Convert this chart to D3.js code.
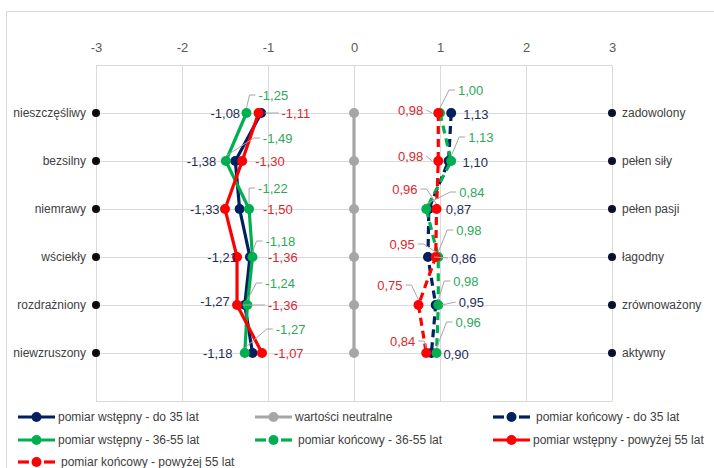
<!DOCTYPE html>
<html><head><meta charset="utf-8">
<script src="https://cdn.jsdelivr.net/npm/d3@7"></script>
<style>
html,body{margin:0;padding:0;background:#fff;}
svg{display:block;font-family:"Liberation Sans",Arial,sans-serif;}
</style></head>
<body><svg id="chart" width="714" height="468"></svg>
<script>
// ---------- data ----------
const categoriesLeft  = ["nieszczęśliwy","bezsilny","niemrawy","wściekły","rozdrażniony","niewzruszony"];
const categoriesRight = ["zadowolony","pełen siły","pełen pasji","łagodny","zrównoważony","aktywny"];
const xTicks = [-3,-2,-1,0,1,2,3];
const preYoung  = [-1.08,-1.38,-1.33,-1.21,-1.27,-1.18];
const neutral   = [0,0,0,0,0,0];
const postYoung = [1.13,1.10,0.87,0.86,0.95,0.90];
const preMid    = [-1.25,-1.49,-1.22,-1.18,-1.24,-1.27];
const postMid   = [1.00,1.13,0.84,0.98,0.98,0.96];
const preOld    = [-1.11,-1.30,-1.50,-1.36,-1.36,-1.07];
const postOld   = [0.98,0.98,0.96,0.95,0.75,0.84];
const seriesNames = ["pomiar wstępny - do 35 lat","wartości neutralne","pomiar końcowy - do 35 lat",
  "pomiar wstępny - 36-55 lat","pomiar końcowy - 36-55 lat","pomiar wstępny - powyżej 55 lat",
  "pomiar końcowy - powyżej 55 lat"];

// ---------- styling / layout (not data) ----------
const C = {navy:"#002060", gray:"#a6a6a6", green:"#00b050", red:"#ff0000"};
const LC = {navy:"#1f2d5a", green:"#2ea85a", red:"#e0262c"};
// label offsets [dx, dy] relative to point, anchor, leader flag
const labelLayout = {
  preYoung:  {anchor:"end",   leader:false, off:[[-21,0],[-19,0],[-20,0],[-13,0],[-15,-4],[-20,0]]},
  preOld:    {anchor:"start", leader:[true,false,false,false,true,false], off:[[23,0],[13,0],[38,0],[31,0],[31,0],[12,0]]},
  preMid:    {anchor:"start", leader:true, off:[[12,-18],[37,-23],[9,-21],[13,-16],[18,-22],[31,-24]]},
  postYoung: {anchor:"start", leader:[false,false,false,true,true,false], off:[[12,1],[14,1],[17,0],[23,1],[23,-3],[12,1]]},
  postMid:   {anchor:"start", leader:true, off:[[18,-23],[17,-24],[33,-17],[18,-27],[15,-24],[19,-31]]},
  postOld:   {anchor:"end",   leader:true, off:[[-15,-3],[-15,-5],[-19,-20],[-21,-13],[-16,-20],[-11,-12]]}
};

const svg = d3.select("#chart");
const x = d3.scaleLinear().domain([-3,3]).range([96,612]);
const y = d3.scaleLinear().domain([0,7]).range([65,401]);
const rows = d3.range(1,7);
const fmt = d3.formatLocale({decimal:",",thousands:" ",grouping:[3],currency:["",""],minus:"-"}).format(".2f");

// outer border
svg.append("rect").attr("x",6.5).attr("y",11.5).attr("width",760).attr("height",500)
  .attr("fill","none").attr("stroke","#d9d9d9");

// gridlines
const grid = svg.append("g").attr("stroke","#d9d9d9").attr("stroke-width",1);
grid.selectAll("line.v").data(xTicks).join("line")
  .attr("x1",d=>Math.round(x(d))+0.5).attr("x2",d=>Math.round(x(d))+0.5)
  .attr("y1",y(0)).attr("y2",y(7));
grid.selectAll("line.h").data(d3.range(0,8)).join("line")
  .attr("x1",x(-3)).attr("x2",x(3))
  .attr("y1",d=>Math.round(y(d))+0.5).attr("y2",d=>Math.round(y(d))+0.5);

// top axis
const ax = svg.append("g").attr("transform",`translate(0,${y(0)})`)
  .call(d3.axisTop(x).tickValues(xTicks).tickSize(0).tickPadding(13).tickFormat(d=>String(d)));
ax.select(".domain").remove();
ax.selectAll("text").attr("font-size",13).attr("fill","#595959").attr("font-family","Liberation Sans, Arial");

// category endpoints
const ends = svg.append("g");
ends.selectAll("circle.l").data(rows).join("circle")
  .attr("cx",x(-3)).attr("cy",d=>y(d)).attr("r",4).attr("fill","#0d0d0d");
ends.selectAll("circle.r").data(rows).join("circle")
  .attr("cx",x(3)).attr("cy",d=>y(d)).attr("r",4).attr("fill","#0a1030");
ends.selectAll("text.l").data(categoriesLeft).join("text")
  .attr("x",86).attr("y",(d,i)=>y(i+1)).attr("dy","0.35em").attr("text-anchor","end")
  .attr("font-size",12).attr("fill","#404040").text(d=>d);
ends.selectAll("text.r").data(categoriesRight).join("text")
  .attr("x",622).attr("y",(d,i)=>y(i+1)).attr("dy","0.35em").attr("text-anchor","start")
  .attr("font-size",12).attr("fill","#404040").text(d=>d);

// series
const series = [
  {key:"preYoung", vals:preYoung, color:C.navy, dash:null, lc:LC.navy},
  {key:"neutral", vals:neutral, color:C.gray, dash:null, lc:null},
  {key:"postYoung", vals:postYoung, color:C.navy, dash:"8,5", lc:LC.navy},
  {key:"preMid", vals:preMid, color:C.green, dash:null, lc:LC.green},
  {key:"postMid", vals:postMid, color:C.green, dash:"8,5", lc:LC.green},
  {key:"preOld", vals:preOld, color:C.red, dash:null, lc:LC.red},
  {key:"postOld", vals:postOld, color:C.red, dash:"8,5", lc:LC.red}
];
const line = d3.line().x(d=>x(d.v)).y(d=>y(d.r));
const sg = svg.append("g");
series.forEach(s=>{
  const pts = s.vals.map((v,i)=>({v, r:i+1}));
  const g = sg.append("g");
  g.append("path").attr("d",line(pts)).attr("fill","none").attr("stroke",s.color)
    .attr("stroke-width",3.2).attr("stroke-dasharray",s.dash).attr("stroke-linejoin","round");
  g.selectAll("circle").data(pts).join("circle")
    .attr("cx",d=>x(d.v)).attr("cy",d=>y(d.r)).attr("r",5).attr("fill",s.color);
});

// labels
const lg = svg.append("g");
series.forEach(s=>{
  const L = labelLayout[s.key]; if(!L) return;
  s.vals.forEach((v,i)=>{
    const px = x(v), py = y(i+1);
    const [dx,dy] = L.off[i];
    const tx = px+dx, ty = py+dy;
    const leader = Array.isArray(L.leader) ? L.leader[i] : L.leader;
    if(leader){
      const ex = L.anchor==="start" ? tx-3 : tx+3;
      const bx = L.anchor==="start" ? ex-6 : ex+6;
      let path;
      if(Math.abs(dy)<6) path = `M${ex},${ty}L${px + (L.anchor==="start"?6:-6)},${py}`;
      else path = `M${ex},${ty}L${bx},${ty}L${px},${py + (dy<0?-5:5)}`;
      lg.append("path").attr("d",path).attr("fill","none").attr("stroke","#a6a6a6").attr("stroke-width",1);
    }
    lg.append("text").attr("x",tx).attr("y",ty).attr("dy","0.35em").attr("text-anchor",L.anchor)
      .attr("font-size",13).attr("fill",s.lc).text(fmt(v));
  });
});

// legend
const legendPos = [[18,417],[255,417],[493,417],[18,440],[255,440],[493,440],[18,462]];
const leg = svg.append("g");
series.forEach((s,i)=>{
  const [lx,ly] = legendPos[i];
  const g = leg.append("g").attr("transform",`translate(${lx},${ly})`);
  if(s.dash){
    g.append("line").attr("x1",0).attr("x2",11).attr("y1",0).attr("y2",0).attr("stroke",s.color).attr("stroke-width",3.2);
    g.append("line").attr("x1",26).attr("x2",37).attr("y1",0).attr("y2",0).attr("stroke",s.color).attr("stroke-width",3.2);
  } else {
    g.append("line").attr("x1",0).attr("x2",37).attr("y1",0).attr("y2",0).attr("stroke",s.color).attr("stroke-width",3.2);
  }
  g.append("circle").attr("cx",18.5).attr("cy",0).attr("r",5).attr("fill",s.color);
  g.append("text").attr("x",s.dash?43:40).attr("y",0).attr("dy","0.35em").attr("font-size",12)
    .attr("fill","#404040").text(seriesNames[i]);
});
</script></body></html>
